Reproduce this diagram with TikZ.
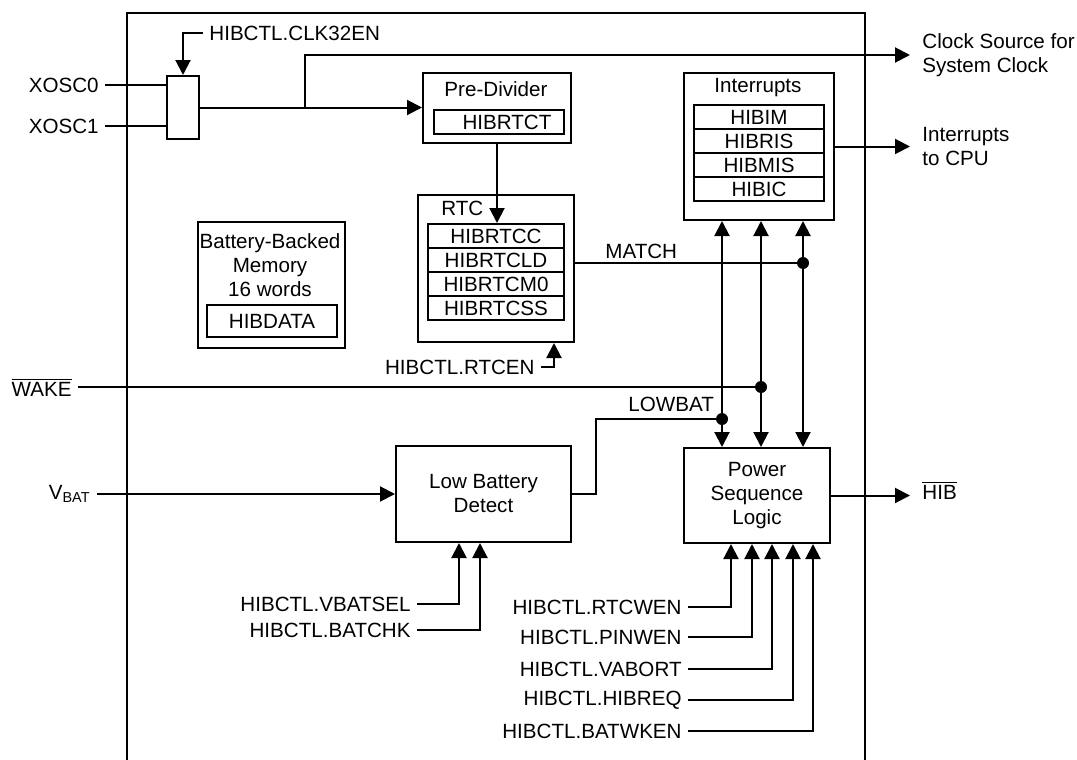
\documentclass[tikz,border=0pt]{standalone}
\usepackage{amsmath}
\usepackage{fontspec}
\setmainfont{Liberation Sans}
\usepackage{tikz}
\usetikzlibrary{arrows.meta}
\newcommand{\hibfont}{\fontsize{10.3}{12}\selectfont}
\tikzset{
  blk/.style={draw, line width=1pt, inner sep=0pt, anchor=north west, align=center},
  txt/.style={inner sep=0pt, align=center},
  pin/.style={inner ysep=0pt, inner xsep=3pt},
  outlbl/.style={inner ysep=0pt, inner xsep=6pt, anchor=west, align=left},
  wire/.style={line width=1pt},
  sigarrow/.style={wire, -{Triangle[length=7.5pt,width=7.5pt]}},
  botharrow/.style={wire, {Triangle[length=7.5pt,width=7.5pt]}-{Triangle[length=7.5pt,width=7.5pt]}},
  junction/.style={circle, fill, inner sep=0pt, minimum size=6pt},
}

\begin{document}
\begin{tikzpicture}[x=0.5pt, y=-0.5pt, font=\hibfont]
  \useasboundingbox (0,0) rectangle (1077,760);
  \draw[wire] (127,760) -- (127,13) -- (865,13) -- (865,760);

  \node[blk, minimum width=16pt, minimum height=31.5pt] (mux) at (166,75) {};
  \node[pin, anchor=east] (xosc0) at (105,85) {XOSC0};
  \node[pin, anchor=east] (xosc1) at (105,126) {XOSC1};
  \node[pin, anchor=west] (clk32en) at (203,33) {HIBCTL.CLK32EN};

  \node[blk, minimum width=74pt, minimum height=35pt] (prediv) at (422,72) {};
  \node[txt] (predivtitle) at (496,89) {Pre-Divider};
  \node[blk, minimum width=65pt, minimum height=12pt] (hibrtct) at (433,109) {\hspace{8pt}HIBRTCT};

  \node[blk, minimum width=78pt, minimum height=73.5pt] (rtc) at (417,194) {};
  \node[txt, anchor=west] (rtctitle) at (441,208) {RTC};
  \node[blk, minimum width=68pt, minimum height=12pt] (rtcc) at (427,223) {HIBRTCC};
  \node[blk, minimum width=68pt, minimum height=12pt] (rtcld) at (427,247) {HIBRTCLD};
  \node[blk, minimum width=68pt, minimum height=12pt] (rtcm0) at (427,271) {HIBRTCM0};
  \node[blk, minimum width=68pt, minimum height=12pt] (rtcss) at (427,295) {HIBRTCSS};
  \node[pin, anchor=east] (rtcen) at (541,367) {HIBCTL.RTCEN};

  \node[blk, minimum width=73.5pt, minimum height=63pt] (batmem) at (197,221) {};
  \node[txt] (batmemtitle) at (270,265) {Battery-Backed\\Memory\\16 words};
  \node[blk, minimum width=65pt, minimum height=16pt] (hibdata) at (206,304) {HIBDATA};

  \node[blk, minimum width=75pt, minimum height=73.5pt] (intr) at (683,72) {};
  \node[txt] (intrtitle) at (758,88) {Interrupts};
  \node[blk, minimum width=65pt, minimum height=12pt] (hibim) at (693,104) {HIBIM};
  \node[blk, minimum width=65pt, minimum height=12pt] (hibris) at (693,128) {HIBRIS};
  \node[blk, minimum width=65pt, minimum height=12pt] (hibmis) at (693,152) {HIBMIS};
  \node[blk, minimum width=65pt, minimum height=12pt] (hibic) at (693,176) {HIBIC};

  \node[blk, minimum width=87.5pt, minimum height=48pt] (lbd) at (395,445) {Low Battery\\Detect};
  \node[blk, minimum width=73pt, minimum height=47.5pt] (pwr) at (683,447) {Power\\Sequence\\Logic};

  \node[pin, anchor=east] (wake) at (78,387) {$\overline{\mbox{WAKE}}$};
  \node[pin, anchor=east] (vbat) at (97,494) {V\textsubscript{BAT}};
  \node[pin, anchor=east] (vbatsel) at (417,604) {HIBCTL.VBATSEL};
  \node[pin, anchor=east] (batchk) at (417,630) {HIBCTL.BATCHK};
  \node[pin, anchor=east] (rtcwen) at (688,607) {HIBCTL.RTCWEN};
  \node[pin, anchor=east] (pinwen) at (688,637) {HIBCTL.PINWEN};
  \node[pin, anchor=east] (vabort) at (688,669) {HIBCTL.VABORT};
  \node[pin, anchor=east] (hibreq) at (688,700) {HIBCTL.HIBREQ};
  \node[pin, anchor=east] (batwken) at (688,731) {HIBCTL.BATWKEN};

  \node[outlbl] (clksrc) at (910,55) {Clock Source for\\System Clock};
  \node[outlbl] (cpu) at (910,147) {Interrupts\\to CPU};
  \node[outlbl] (hib) at (910,490) {$\overline{\mbox{HIB}}$};

  \node[txt, anchor=west] (matchlbl) at (605,251) {MATCH};
  \node[txt, anchor=west] (lowbatlbl) at (628,404) {LOWBAT};

  \coordinate (split) at (305,106.5);
  \coordinate (bus1) at (722,330);
  \coordinate (bus2) at (761,330);
  \coordinate (bus3) at (803,330);
  \coordinate (matchpt) at (803,263);
  \coordinate (lowpt) at (722,419);

  \draw[wire] (xosc0.east) -- (xosc0.east -| mux.west);
  \draw[wire] (xosc1.east) -- (xosc1.east -| mux.west);
  \draw[sigarrow] (clk32en.west) -| (mux.north);
  \draw[sigarrow] (mux.east) -- (mux.east -| prediv.west);
  \draw[sigarrow] (split) |- (clksrc.west);
  \draw[sigarrow] (prediv.south) -- (prediv.south |- rtcc.north);
  \draw[sigarrow] (rtcen.east) -| ([xshift=-10.5pt]rtc.south east);

  \draw[wire] (rtc.east |- matchpt) -- (matchpt);
  \draw[botharrow] (bus1 |- intr.south) -- (bus1 |- pwr.north);
  \draw[botharrow] (bus2 |- intr.south) -- (bus2 |- pwr.north);
  \draw[botharrow] (bus3 |- intr.south) -- (bus3 |- pwr.north);
  \draw[wire] (wake.east) -- (wake.east -| bus2);
  \draw[wire] (lbd.east) -- ++(12pt,0) |- (lowpt);
  \node[junction] at (matchpt) {};
  \node[junction] at (wake.east -| bus2) {};
  \node[junction] at (lowpt) {};

  \draw[sigarrow] (vbat.east) -- (vbat.east -| lbd.west);
  \draw[sigarrow] (vbatsel.east) -| ([xshift=32pt]lbd.south west);
  \draw[sigarrow] (batchk.east) -| ([xshift=42.5pt]lbd.south west);
  \draw[sigarrow] (rtcwen.east) -| ([xshift=24pt]pwr.south west);
  \draw[sigarrow] (pinwen.east) -| ([xshift=34.5pt]pwr.south west);
  \draw[sigarrow] (vabort.east) -| ([xshift=44.5pt]pwr.south west);
  \draw[sigarrow] (hibreq.east) -| ([xshift=55pt]pwr.south west);
  \draw[sigarrow] (batwken.east) -| ([xshift=65pt]pwr.south west);

  \draw[sigarrow] (intr.east) -- (intr.east -| cpu.west);
  \draw[sigarrow] (pwr.east) -- (pwr.east -| hib.west);
\end{tikzpicture}
\end{document}
